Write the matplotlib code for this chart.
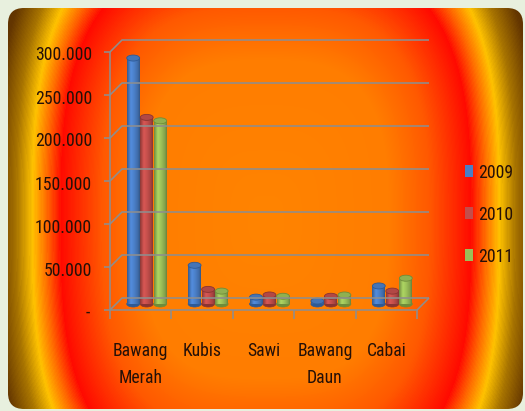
import numpy as np
import matplotlib
matplotlib.use("Agg")
import matplotlib.pyplot as plt
from matplotlib import font_manager
from matplotlib.font_manager import FontProperties
from matplotlib.textpath import TextPath
from matplotlib.patches import FancyBboxPatch, Ellipse, Rectangle
from matplotlib.colors import LinearSegmentedColormap, to_rgb
from matplotlib.lines import Line2D
from matplotlib.transforms import IdentityTransform

# ---- data -------------------------------------------------------------
categories = ["Bawang\nMerah", "Kubis", "Sawi", "Bawang\nDaun", "Cabai"]
years = ["2009", "2010", "2011"]
prod_2009 = [286000, 45000, 8000, 3500, 21000]
prod_2010 = [217000, 17000, 10500, 9000, 15000]
prod_2011 = [213000, 15000, 9000, 10500, 30000]
y_ticks = [0, 50000, 100000, 150000, 200000, 250000, 300000]

series = [prod_2009, prod_2010, prod_2011]
colors = ["#4A7EC6", "#C24E4B", "#9BBF58"]
edge_colors = ["#2E5A96", "#8A3432", "#6E8C3A"]


def pick_font():
    """Prefer a narrow sans face; fall back to a regular one."""
    prefs = ["liberationsansnarrow-regular", "notosans-condensed.", "notosans-condensedregular",
             "opensans-condensedregular", "robotocondensed-regular", "roboto_condensed-regular",
             "dejavusanscondensed.", "opensans_condensed-regular"]
    files = [f.fname for f in font_manager.fontManager.ttflist]
    for p in prefs:
        for fn in files:
            base = fn.replace("\\", "/").split("/")[-1].lower()
            if base.startswith(p):
                return FontProperties(fname=fn)
    for f in font_manager.fontManager.ttflist:
        low = f.fname.lower()
        if (("narrow" in low or "condensed" in low) and "sans" in low and "mono" not in low
                and "bold" not in low and "italic" not in low and "light" not in low
                and "semi" not in low and "extra" not in low and "thin" not in low
                and "medium" not in low and "black" not in low):
            return FontProperties(fname=f.fname)
    return FontProperties(family="Open Sans")


fp = pick_font()
# size the text so that "300.000" is about 55 px wide and digits about 14 px tall
ext_w = TextPath((0, 0), "300.000", size=100, prop=fp).get_extents().width / 100
ext_h = TextPath((0, 0), "0", size=100, prop=fp).get_extents().height / 100
em_px = min(55.0 / ext_w, 14.5 / ext_h)
FS = em_px * 0.72
fp.set_size(FS)
TEXT_COLOR = "#241008"

W, H = 525, 411
fig = plt.figure(figsize=(W / 100, H / 100), dpi=100, facecolor="#E8F0DE")

# ---- radial background ---------------------------------------------------
bg = fig.add_axes([0, 0, 1, 1])
bg.set_xlim(0, W)
bg.set_ylim(H, 0)
bg.axis("off")
yy, xx = np.mgrid[0:H, 0:W] + 0.5
r = ((np.abs(xx - 266) / 205.0) ** 3 + (np.abs(yy - 220) / 266.0) ** 3) ** (1 / 3)
stops = [
    (0.00, "#FF8400"),
    (0.60, "#FF7D00"),
    (0.80, "#FF5800"),
    (0.92, "#FF2A00"),
    (1.00, "#FF0A00"),
    (1.07, "#FF6A00"),
    (1.14, "#FFC200"),
    (1.22, "#A87400"),
    (1.32, "#643600"),
    (1.50, "#4A2400"),
]
vmax = 1.5
cmap = LinearSegmentedColormap.from_list("glow", [(s / vmax, c) for s, c in stops])
frame = FancyBboxPatch((8, 8), 515, 401, boxstyle="round,pad=0,rounding_size=16",
                       facecolor="none", edgecolor="none", transform=bg.transData)
bg.add_patch(frame)
img = bg.imshow(r, cmap=cmap, vmin=0, vmax=vmax, extent=(0, W, H, 0),
                interpolation="bilinear", aspect="auto")
img.set_clip_path(frame)

# ---- chart plane (mid depth of the 3-D box) -----------------------------
ax = fig.add_axes([116 / W, (H - 304) / H, 307 / W, 258 / H])
ax.set_xlim(0, 5)
ax.set_ylim(0, 300000)
ax.axis("off")

DEPTH = 6  # pixels from mid plane to back wall / front edge


def disp(x, v, dz):
    px, py = ax.transData.transform((x, v))
    return px + dz * DEPTH, py + dz * DEPTH


grid_kw = dict(color="#8E8E8E", lw=1.15, solid_capstyle="butt", zorder=2)


def pline(points, **kw):
    xs = [p[0] for p in points]
    ys = [p[1] for p in points]
    fig.add_artist(Line2D(xs, ys, transform=IdentityTransform(), **kw))


def ptext(x, y, s, **kw):
    fig.text(x, y, s, fontproperties=fp, color=TEXT_COLOR,
             transform=IdentityTransform(), **kw)


# back-wall gridlines with their side-wall diagonals and ticks
for v in y_ticks:
    fx, fy = disp(0, v, -1)
    pline([(fx - 6, fy), (fx, fy), disp(0, v, 1), disp(5, v, 1)], **grid_kw)
    if v == 0:
        ptext(fx - 20, fy - 3, "-", ha="right", va="center")
    else:
        ptext(fx - 18, fy - 8.5, f"{v:,.0f}".replace(",", "."), ha="right", va="baseline")

# vertical axis and floor outline
pline([disp(0, 0, -1), disp(0, 300000, -1)], **grid_kw)
pline([disp(0, 0, -1), disp(5, 0, -1), disp(5, 0, 1)], **grid_kw)
for i in range(6):
    bx, by = disp(i, 0, -1)
    pline([(bx, by), (bx, by - 9)], **grid_kw)

# category labels under the floor
for i, name in enumerate(categories):
    cx, cy = disp(i + 0.5, 0, -1)
    for j, line in enumerate(name.split("\n")):
        ptext(cx, cy - 46 - 27 * j, line, ha="center", va="baseline")

# ---- cylinders ----------------------------------------------------------
bar_w = 0.21
step = 0.22
px_per_unit = 258 / 300000
cap_h = 6 / px_per_unit
shade = np.interp(np.linspace(0, 1, 64), [0, 0.3, 0.55, 0.85, 1.0],
                  [0.72, 1.12, 1.02, 0.85, 0.68])

for k, (vals, col, ecol) in enumerate(zip(series, colors, edge_colors)):
    xpos = np.arange(len(categories)) + 0.5 + (k - 1) * step
    base = np.array(to_rgb(col))
    grad = np.clip(base[None, None, :] * shade[None, :, None], 0, 1)
    z = 5 + k
    for x, v in zip(xpos, vals):
        ax.add_patch(Ellipse((x, 0), bar_w, cap_h, facecolor=ecol,
                             edgecolor=ecol, lw=0.5, zorder=z - 0.5, clip_on=False))
    bars = ax.bar(xpos, vals, width=bar_w, color=col, linewidth=0, zorder=z,
                  label=years[k])
    for rect, x, v in zip(bars.patches, xpos, vals):
        rect.set_clip_on(False)
        im = ax.imshow(grad, extent=(x - bar_w / 2, x + bar_w / 2, 0, v),
                       aspect="auto", interpolation="bilinear", zorder=z + 0.1)
        im.set_clip_path(rect)
        top = np.clip(base * 0.92, 0, 1)
        ax.add_patch(Ellipse((x, v), bar_w, cap_h, facecolor=top,
                             edgecolor=ecol, lw=0.6, zorder=z + 0.2, clip_on=False))

ax.set_xlim(0, 5)
ax.set_ylim(0, 300000)

# ---- legend ---------------------------------------------------------------
for k, year in enumerate(years):
    base_y = H - (178 + 42 * k)
    fig.add_artist(Rectangle((465, base_y + 1), 8, 12, facecolor=colors[k],
                             edgecolor="none", transform=IdentityTransform()))
    ptext(478, base_y, year, ha="left", va="baseline")

fig.savefig("out.png", dpi=100, facecolor=fig.get_facecolor())
